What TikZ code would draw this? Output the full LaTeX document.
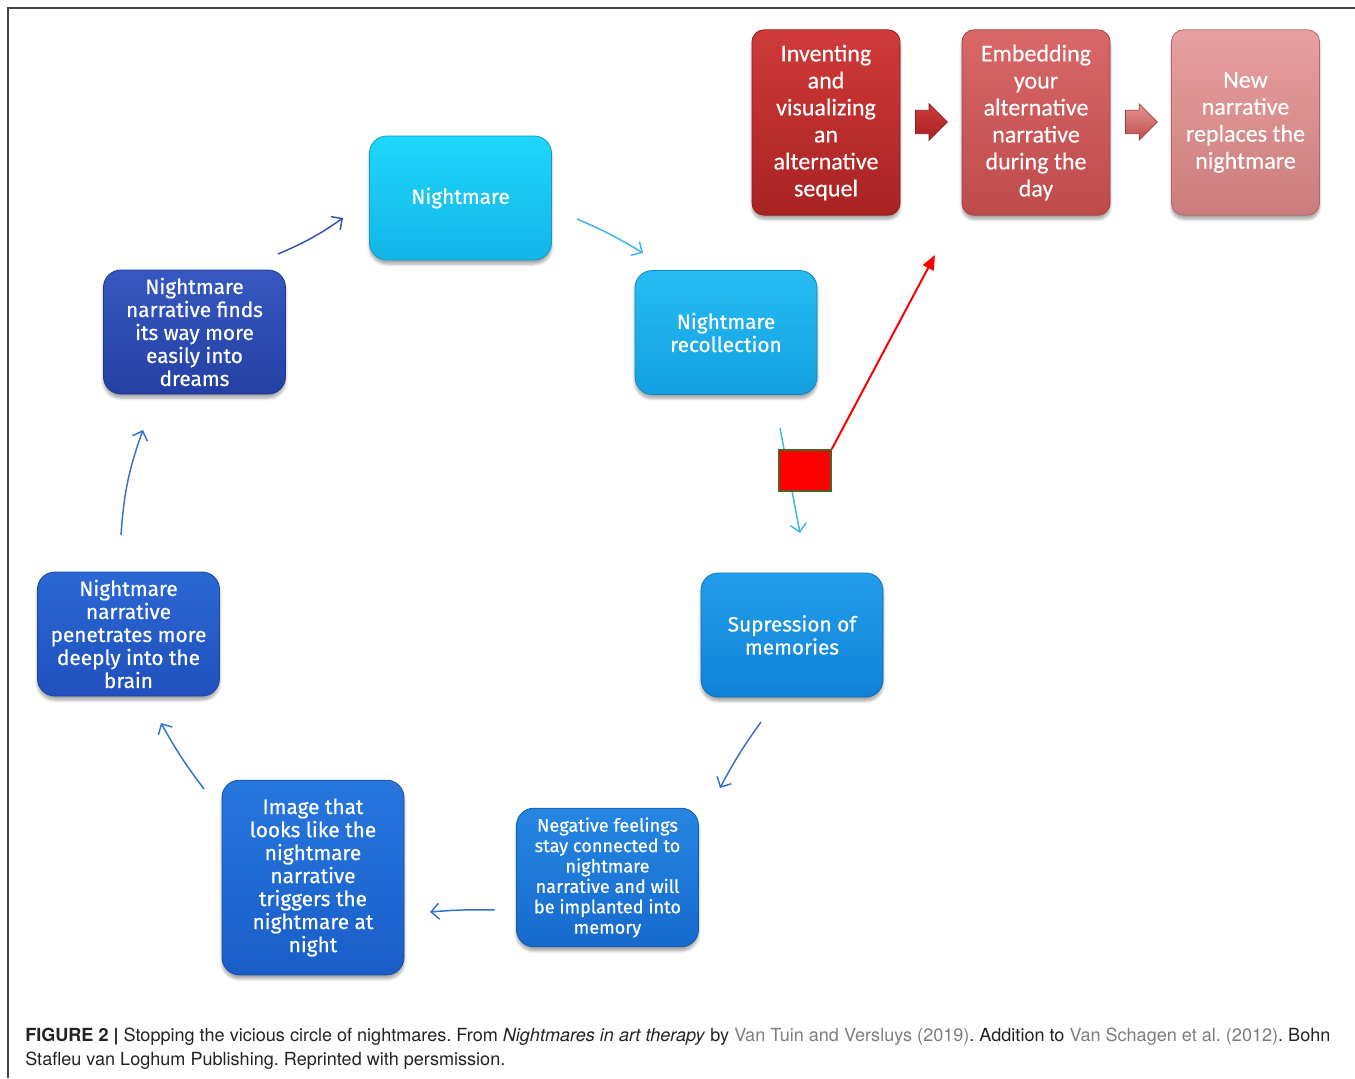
\documentclass[tikz,border=0pt]{standalone}
\usepackage{fontspec}
\setmainfont{TeX Gyre Heros}
\newfontfamily\bluefont[FakeBold=0.6]{Fira Sans}
\newfontfamily\redfont[FakeBold=0.3]{Carlito}
\usetikzlibrary{arrows.meta}
\usetikzlibrary{shapes.arrows}
\usetikzlibrary{shadows.blur}

\definecolor{framegray}{RGB}{70,70,70}
\definecolor{captext}{RGB}{35,35,35}
\definecolor{linkgray}{RGB}{125,125,125}
\definecolor{cyanA}{RGB}{32,214,250}
\definecolor{cyanB}{RGB}{18,182,232}
\definecolor{recA}{RGB}{38,188,242}
\definecolor{recB}{RGB}{20,160,226}
\definecolor{supA}{RGB}{34,158,236}
\definecolor{supB}{RGB}{16,130,214}
\definecolor{negA}{RGB}{38,134,226}
\definecolor{negB}{RGB}{22,106,204}
\definecolor{imgA}{RGB}{38,118,222}
\definecolor{imgB}{RGB}{26,94,200}
\definecolor{penA}{RGB}{42,104,212}
\definecolor{penB}{RGB}{32,80,188}
\definecolor{fndA}{RGB}{54,88,192}
\definecolor{fndB}{RGB}{36,64,164}
\definecolor{invA}{RGB}{208,58,58}
\definecolor{invB}{RGB}{168,34,34}
\definecolor{embA}{RGB}{218,104,104}
\definecolor{embB}{RGB}{190,74,74}
\definecolor{newA}{RGB}{232,160,160}
\definecolor{newB}{RGB}{204,124,124}
\definecolor{arrDark}{RGB}{52,82,172}
\definecolor{arrLight}{RGB}{60,182,232}
\definecolor{arrMid}{RGB}{52,112,204}
\definecolor{sqborder}{RGB}{78,98,40}

\begin{document}
\begin{tikzpicture}[x=0.75pt,y=0.75pt,yscale=-1,xscale=1,
  boxshade/.style 2 args={top color=#1,bottom color=#2,draw=#2!85!black,line width=0.6pt},
  cyclebox/.style={rounded corners=13pt,align=center,text=white,inner sep=2pt,
    minimum width=136.5pt,minimum height=93pt,
    font=\bluefont\fontsize{15.6}{17.25}\selectfont,
    blur shadow={shadow xshift=0pt,shadow yshift=-3pt,shadow blur steps=6,shadow opacity=35}},
  stepred/.style={rounded corners=9pt,align=center,text=white,inner sep=2pt,
    minimum width=111pt,minimum height=139pt,
    font=\redfont\fontsize{18}{20.25}\selectfont,
    blur shadow={shadow xshift=0pt,shadow yshift=-3pt,shadow blur steps=6,shadow opacity=35}},
  blockarr/.style={single arrow,single arrow head extend=4.9pt,inner xsep=0pt,inner ysep=8.5pt,
    minimum height=24pt,anchor=tail},
  thinarr/.style={line width=1.1pt,-{Straight Barb[length=6pt,width=12pt]}},
  redbox/.style={fill=red,draw=sqborder,line width=1.1pt,minimum width=39pt,minimum height=31pt,inner sep=0pt}
  ]
\useasboundingbox (0,0) rectangle (1355,1078);

%Frame lines
\draw [framegray,line width=1.1pt] (8,1078) -- (8,8) -- (1355,8) ;

% Cycle nodes
\node (night) [cyclebox,boxshade={cyanA}{cyanB}] at (460.5,198) {Nightmare};
\node (recoll) [cyclebox,boxshade={recA}{recB}] at (726,332.5) {Nightmare\\recollection};
\node (suppr) [cyclebox,boxshade={supA}{supB}] at (792,635) {Supression of\\memories};
\node (negfeel) [cyclebox,boxshade={negA}{negB},minimum height=104pt,
  font=\bluefont\fontsize{13.6}{15.3}\selectfont] at (607.5,877.5) {Negative feelings\\stay connected to\\nightmare\\narrative and will\\be implanted into\\memory};
\node (image) [cyclebox,boxshade={imgA}{imgB},minimum height=146pt] at (313,877.5) {Image that\\looks like the\\nightmare\\narrative\\triggers the\\nightmare at\\night};
\node (penetr) [cyclebox,boxshade={penA}{penB}] at (128.5,634) {Nightmare\\narrative\\penetrates more\\deeply into the\\brain};
\node (finds) [cyclebox,boxshade={fndA}{fndB}] at (194.5,332) {Nightmare\\narrative finds\\its way more\\easily into\\dreams};

% Red steps
\node (invent) [stepred,boxshade={invA}{invB}] at (826,122.5) {Inventing\\and\\visualizing\\an\\alternative\\sequel};
\node (embed) [stepred,boxshade={embA}{embB}] at (1036,122.5) {Embedding\\your\\alternative\\narrative\\during the\\day};
\node (newnarr) [stepred,boxshade={newA}{newB}] at (1245.5,122.5) {New\\narrative\\replaces the\\nightmare};
\node (barr1) [blockarr,boxshade={invA}{invB}] at (915,122) {};
\node (barr2) [blockarr,boxshade={embA!70!white}{embB}] at (1125,122) {};

% Arrow ends
\coordinate (fA) at (278,254); \coordinate (tA) at (343,218);
\coordinate (fB) at (577,219); \coordinate (tB) at (643,253);
\coordinate (fC) at (780,428); \coordinate (tC) at (800,533);
\coordinate (fD) at (761,722); \coordinate (tD) at (720,788);
\coordinate (fE) at (495,910); \coordinate (tE) at (430,912);
\coordinate (fF) at (204,789); \coordinate (tF) at (161,723);
\coordinate (fG) at (121,535); \coordinate (tG) at (143,430);
\coordinate (tR) at (935,255);

% Cycle arrows
\draw [thinarr,arrDark] (fA) to[bend left=6] (tA);
\draw [thinarr,arrLight] (fB) to[bend right=4] (tB);
\draw [thinarr,arrLight] (fC) -- (tC);
\draw [thinarr,arrMid] (fD) to[bend left=4] (tD);
\draw [thinarr,arrMid] (fE) to[bend left=3] (tE);
\draw [thinarr,arrMid] (fF) to[bend right=4] (tF);
\draw [thinarr,arrMid] (fG) to[bend right=8] (tG);

% Red marker
\node (redsq) [redbox] at (805,470.5) {};
\draw [red,line width=1.5pt,-{Triangle[length=11pt,width=9pt]}] (redsq.north east) -- (tR) ;

% Caption
\node (caption) [anchor=north west,align=left,inner sep=0pt,text=captext,
  font=\fontsize{13.55}{18}\selectfont\frenchspacing] at (25,1028)
  {\textbf{FIGURE 2 |} Stopping the vicious circle of nightmares. From \textit{Nightmares in art therapy} by \textcolor{linkgray}{Van Tuin and Versluys (2019)}. Addition to \textcolor{linkgray}{Van Schagen et al. (2012)}. Bohn\\Stafleu van Loghum Publishing. Reprinted with persmission.};

\end{tikzpicture}
\end{document}
